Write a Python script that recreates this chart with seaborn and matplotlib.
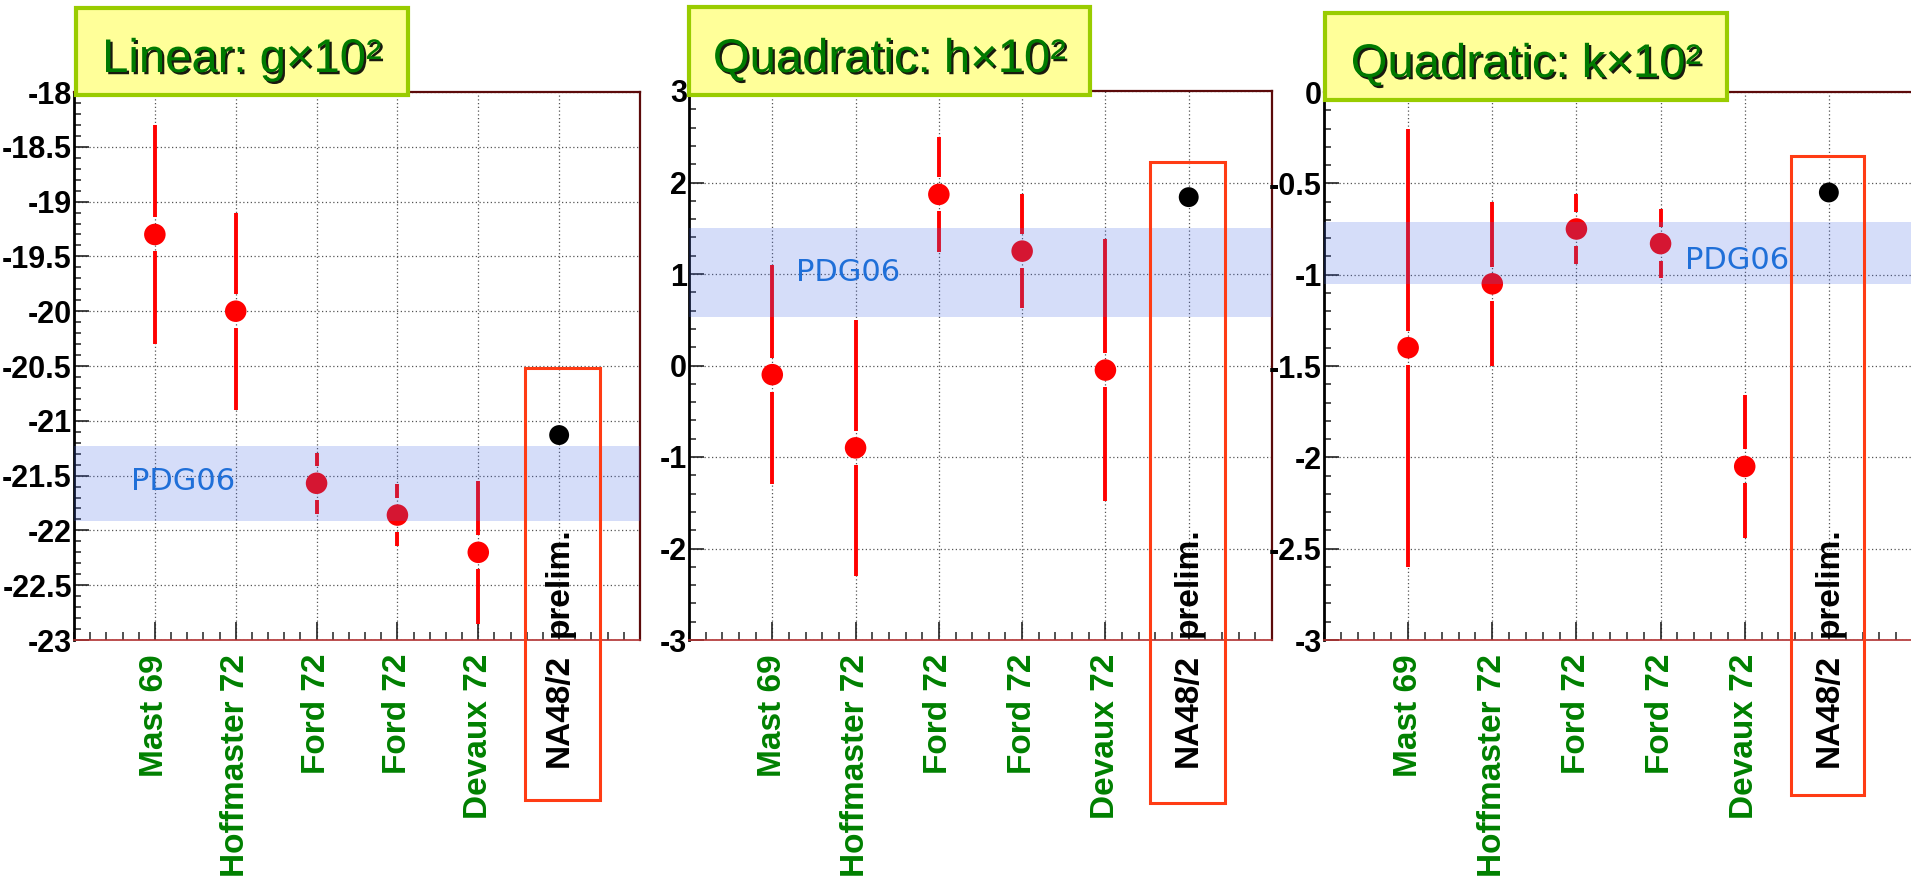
import numpy as np
import pandas as pd
import matplotlib
matplotlib.use("Agg")
import matplotlib.pyplot as plt
import matplotlib.patheffects as pe
import matplotlib.transforms as mtrans
from matplotlib.patches import Rectangle
from matplotlib.ticker import MultipleLocator, FixedLocator
import seaborn as sns

# ---- data -----------------------------------------------------------------
experiments = ["Mast 69", "Hoffmaster 72", "Ford 72", "Ford 72", "Devaux 72", "NA48/2"]
groups = ["old", "old", "old", "old", "old", "na48"]

# slope parameters (x 10^2)
g_values = [-19.30, -20.00, -21.57, -21.86, -22.20, -21.13]
g_errors = [1.00, 0.90, 0.28, 0.28, 0.65, 0.02]
h_values = [-0.10, -0.90, 1.87, 1.25, -0.05, 1.84]
h_errors = [1.20, 1.40, 0.63, 0.62, 1.43, 0.04]
k_values = [-1.40, -1.05, -0.75, -0.83, -2.05, -0.55]
k_errors = [1.20, 0.45, 0.19, 0.19, 0.39, 0.02]

# PDG 2006 averages: (lower edge, upper edge)
pdg_g = [-21.91, -21.23]
pdg_h = [0.53, 1.50]
pdg_k = [-1.05, -0.71]

titles = ["Linear: g\u00d710\u00b2", "Quadratic: h\u00d710\u00b2", "Quadratic: k\u00d710\u00b2"]
y_ranges = [(-23.0, -18.0), (-3.0, 3.0), (-3.0, 0.0)]
y_steps = [0.5, 1.0, 0.5]

# ---- style ----------------------------------------------------------------
sns.set_style("ticks")
plt.rcParams["font.family"] = ["Liberation Sans", "DejaVu Sans"]
plt.rcParams["axes.unicode_minus"] = False

W, H = 1911, 893
fig = plt.figure(figsize=(W / 100, H / 100), dpi=100)

BAND = "#4166e7"
GREEN = "#008000"
BOX_RED = "#ff3c14"
MAROON = "#5c0a0a"

layout = [
    dict(left=74, right=640, top=92, bottom=640, minor=0.1,
         pdg_xy=(0.70, -21.556), box=(5.58, 6.50, -20.52, -24.46),
         title_box=(76, 408, 8, 95), title_base=72),
    dict(left=689, right=1272, top=91, bottom=640, minor=0.2,
         pdg_xy=(1.28, 1.016), box=(5.54, 6.43, 2.22, -4.78),
         title_box=(689, 1090, 7, 95), title_base=72),
    dict(left=1324, right=1913, top=92, bottom=640, minor=0.1,
         pdg_xy=(4.29, -0.925), box=(5.55, 6.42, -0.35, -3.85),
         title_box=(1325, 1727, 13, 100), title_base=77),
]

series = [(g_values, g_errors, pdg_g), (h_values, h_errors, pdg_h), (k_values, k_errors, pdg_k)]
positions = np.arange(1, len(experiments) + 1)

for i, (lay, (vals, errs, pdg)) in enumerate(zip(layout, series)):
    ax = fig.add_axes([lay["left"] / W, 1 - lay["bottom"] / H,
                       (lay["right"] - lay["left"]) / W, (lay["bottom"] - lay["top"]) / H])
    ymin, ymax = y_ranges[i]

    df = pd.DataFrame({"pos": positions, "value": vals, "err": errs,
                       "experiment": experiments, "group": groups})

    # error bars, interrupted around the marker
    px_h = lay["bottom"] - lay["top"]
    gap = 17 * (ymax - ymin) / px_h
    for _, r in df.iterrows():
        if r["err"] > gap:
            ax.vlines(r["pos"], r["value"] + gap, r["value"] + r["err"],
                      color="red", lw=2.8, zorder=2)
            ax.vlines(r["pos"], r["value"] - r["err"], r["value"] - gap,
                      color="red", lw=2.8, zorder=2)

    sns.scatterplot(data=df[df["group"] == "old"], x="pos", y="value",
                    color="red", s=240, edgecolor="none", legend=False,
                    ax=ax, zorder=3)
    sns.scatterplot(data=df[df["group"] == "na48"], x="pos", y="value",
                    color="black", s=205, edgecolor="none", legend=False,
                    ax=ax, zorder=3)

    # PDG06 band, translucent on top of the points
    ax.axhspan(pdg[0], pdg[1], color=BAND, alpha=0.22, lw=0, zorder=4)
    ax.text(lay["pdg_xy"][0], lay["pdg_xy"][1], "PDG06", color="#1f6fd8",
            fontsize=22, family="DejaVu Sans", va="center", ha="left", zorder=5)

    # grid and ticks
    ax.set_axisbelow(True)
    yt = np.arange(ymin, ymax + 1e-9, y_steps[i])
    ax.set_yticks(yt)
    ax.set_yticklabels(["%g" % round(v, 3) for v in yt], fontsize=22,
                       fontweight="bold", color="black")
    ax.yaxis.set_minor_locator(MultipleLocator(lay["minor"]))
    ax.set_xticks(positions)
    ax.set_xticklabels(experiments, rotation=90, fontsize=24, fontweight="bold",
                       color=GREEN, ha="center", va="top")
    ax.get_xticklabels()[-1].set_color("black")
    ax.xaxis.set_minor_locator(MultipleLocator(0.2))
    ax.set_xlim(0, 7)
    ax.set_ylim(ymin, ymax)
    ax.grid(True, which="major", linestyle=(0, (1, 2)), color="#555555", lw=0.9)

    ax.tick_params(axis="x", which="major", direction="in", length=13, width=1.2,
                   color="#222222", pad=10, bottom=True, top=False)
    ax.tick_params(axis="x", which="minor", direction="in", length=6, width=1.1,
                   color="#222222", bottom=True, top=False)
    ax.tick_params(axis="y", which="major", direction="in", length=11, width=1.2,
                   color="#222222", pad=1.5, left=True, right=False)
    ax.tick_params(axis="y", which="minor", direction="in", length=5, width=1.1,
                   color="#222222", left=True, right=False)
    ax.set_xlabel("")
    ax.set_ylabel("")

    for side in ["top", "right"]:
        ax.spines[side].set_visible(True)
        ax.spines[side].set_color(MAROON)
        ax.spines[side].set_linewidth(1.6)
    ax.spines["left"].set_color("black")
    ax.spines["left"].set_linewidth(2.0)
    ax.spines["bottom"].set_color("#b03030")
    ax.spines["bottom"].set_linewidth(1.2)

    # preliminary note next to the NA48/2 label
    trans = mtrans.blended_transform_factory(ax.transData, ax.transAxes)
    ax.text(positions[-1], 0.006, "prelim.", transform=trans, rotation=90,
            ha="center", va="bottom", fontsize=24, fontweight="bold",
            color="black", zorder=6)

    # frame around the NA48/2 result
    x0, x1, ytop, ybot = lay["box"]
    ax.add_patch(Rectangle((x0, ybot), x1 - x0, ytop - ybot, fill=False,
                           edgecolor=BOX_RED, lw=2.2, clip_on=False, zorder=6))

    # title banner
    bx0, bx1, by0, by1 = lay["title_box"]
    fig.patches.append(Rectangle((bx0 / W, 1 - by1 / H), (bx1 - bx0) / W, (by1 - by0) / H,
                                 transform=fig.transFigure, facecolor="#ffff99",
                                 edgecolor="#99cc00", lw=3, zorder=10))
    fig.text((bx0 + bx1) / 2 / W, 1 - lay["title_base"] / H, titles[i],
             ha="center", va="baseline", fontsize=34,
             color="#007a00", zorder=11,
             path_effects=[pe.withSimplePatchShadow(offset=(1.6, -1.6),
                                                    shadow_rgbFace="black", alpha=0.9)])

fig.savefig("out.png", dpi=100)
